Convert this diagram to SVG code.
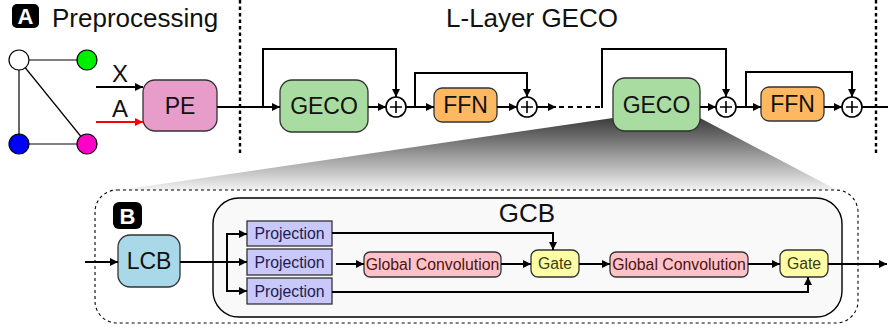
<svg xmlns="http://www.w3.org/2000/svg" width="888" height="328" viewBox="0 0 888 328">
  <defs>
    <marker id="arr" viewBox="0 0 10 10" refX="10" refY="5" markerWidth="4.2" markerHeight="4.2" orient="auto" markerUnits="strokeWidth">
      <path d="M0,0 L10,5 L0,10 z" fill="#000"/>
    </marker>
    <marker id="arrRed" viewBox="0 0 10 10" refX="10" refY="5" markerWidth="4.2" markerHeight="4.2" orient="auto" markerUnits="strokeWidth">
      <path d="M0,0 L10,5 L0,10 z" fill="#f00"/>
    </marker>
    <linearGradient id="zoomFade" x1="0" y1="0" x2="0" y2="1">
      <stop offset="0" stop-color="#3c3c3c"/>
      <stop offset="1" stop-color="#f2f2f2"/>
    </linearGradient>
    <style>
      text { font-family: "Liberation Sans", Arial, sans-serif; }
      .title { font-size: 26px; fill: #111; }
      .big { font-size: 23px; fill: #111; text-anchor: middle; }
      .lbl { font-size: 24px; fill: #111; text-anchor: middle; }
      .small { font-size: 15.8px; text-anchor: middle; }
      .badge { fill: #000; }
      .badgeTxt { font-size: 22px; font-weight: bold; fill: #fff; text-anchor: middle; }
      .box { stroke: #333; stroke-width: 1.3; }
      .wire { fill: none; stroke: #000; stroke-width: 2; }
      .sep { fill: none; stroke: #000; stroke-width: 2.4; stroke-dasharray: 3.5 3; }
      .edge { stroke: #000; stroke-width: 1.2; }
      .sum { fill: #fff; stroke: #000; stroke-width: 1.6; }
      .plus { stroke: #000; stroke-width: 1.6; }
    </style>
  </defs>

  <rect width="888" height="328" fill="#fff"/>

  <!-- zoom wedge from the second GECO layer down to panel B -->
  <polygon points="613,118 700,118 837,190 120,190" fill="url(#zoomFade)"/>

  <!-- panel separators -->
  <line class="sep" x1="240" y1="0" x2="240" y2="156"/>
  <line class="sep" x1="876" y1="0" x2="876" y2="156"/>

  <!-- panel A: titles -->
  <g id="badgeA">
    <rect class="badge" x="12" y="4" width="27" height="24" rx="5"/>
    <text class="badgeTxt" x="25.5" y="24">A</text>
  </g>
  <text class="title" x="52" y="27" font-size="26.5">Preprocessing</text>
  <text class="title" x="532" y="27" text-anchor="middle">L-Layer GECO</text>

  <!-- input graph -->
  <g id="graph">
    <line class="edge" x1="19" y1="60" x2="87" y2="60"/>
    <line class="edge" x1="19" y1="60" x2="19" y2="144"/>
    <line class="edge" x1="19" y1="60" x2="87" y2="144"/>
    <line class="edge" x1="19" y1="144" x2="87" y2="144"/>
    <circle cx="19" cy="60" r="10" fill="#fff" stroke="#000" stroke-width="1.2"/>
    <circle cx="87" cy="60" r="10" fill="#00ee00" stroke="#000" stroke-width="1.2"/>
    <circle cx="19" cy="144" r="10" fill="#0000ff" stroke="#000" stroke-width="1.2"/>
    <circle cx="87" cy="144" r="10" fill="#ff00c8" stroke="#000" stroke-width="1.2"/>
  </g>

  <text class="lbl" x="120" y="82">X</text>
  <text class="lbl" x="120" y="117">A</text>

  <g id="pe">
    <rect class="box" x="143" y="80" width="74" height="51" rx="12" fill="#e89cca"/>
    <text class="big" x="180" y="114">PE</text>
  </g>

  <g id="geco1">
    <rect class="box" x="280" y="80" width="88" height="52" rx="12" fill="#a8dca0"/>
    <text class="big" x="324" y="114">GECO</text>
  </g>
  <g id="sum1">
    <circle class="sum" cx="396" cy="107" r="10"/>
    <path class="plus" d="M390,107 H402 M396,101 V113"/>
  </g>
  <g id="ffn1">
    <rect class="box" x="434" y="88" width="63" height="34" rx="8" fill="#ffb862"/>
    <text class="big" x="465.5" y="113">FFN</text>
  </g>
  <g id="sum2">
    <circle class="sum" cx="527" cy="107" r="10"/>
    <path class="plus" d="M521,107 H533 M527,101 V113"/>
  </g>

  <g id="geco2">
    <rect class="box" x="613" y="78" width="87" height="53" rx="12" fill="#a8dca0"/>
    <text class="big" x="656.5" y="113">GECO</text>
  </g>
  <g id="sum3">
    <circle class="sum" cx="726" cy="107" r="10"/>
    <path class="plus" d="M720,107 H732 M726,101 V113"/>
  </g>
  <g id="ffn2">
    <rect class="box" x="761" y="87" width="63" height="34" rx="8" fill="#ffb862"/>
    <text class="big" x="792.5" y="112">FFN</text>
  </g>
  <g id="sum4">
    <circle class="sum" cx="852" cy="107" r="10"/>
    <path class="plus" d="M846,107 H858 M852,101 V113"/>
  </g>

  <!-- panel B -->
  <rect x="95" y="190" width="763" height="133" rx="22" fill="#fff" stroke="#000" stroke-width="1.1" stroke-dasharray="3 3"/>
  <g id="badgeB">
    <rect class="badge" x="113" y="202" width="29" height="27" rx="6"/>
    <text class="badgeTxt" x="127.5" y="223.5">B</text>
  </g>

  <g id="gcb">
    <rect x="213" y="198" width="629" height="119" rx="26" fill="#f9f9f9" stroke="#000" stroke-width="1.4"/>
    <text class="title" x="527" y="222" text-anchor="middle">GCB</text>
  </g>

  <g id="lcb">
    <rect class="box" x="118" y="235" width="62" height="52" rx="12" fill="#a9d9e8"/>
    <text class="big" x="149" y="269">LCB</text>
  </g>

  <g id="proj1">
    <rect class="box" x="247" y="221" width="85" height="25" fill="#c8c8fa"/>
    <text class="small" x="289.5" y="239" fill="#1c1c50">Projection</text>
  </g>
  <g id="proj2">
    <rect class="box" x="247" y="249" width="85" height="26" fill="#c8c8fa"/>
    <text class="small" x="289.5" y="267.5" fill="#1c1c50">Projection</text>
  </g>
  <g id="proj3">
    <rect class="box" x="247" y="278" width="85" height="26" fill="#c8c8fa"/>
    <text class="small" x="289.5" y="296.5" fill="#1c1c50">Projection</text>
  </g>

  <g id="gconv1">
    <rect class="box" x="364" y="252" width="137" height="25" rx="6" fill="#ffc2c8"/>
    <text class="small" x="432.5" y="270" fill="#4a1414">Global Convolution</text>
  </g>
  <g id="gate1">
    <rect class="box" x="531" y="250" width="48" height="27" rx="7" fill="#fdfda6"/>
    <text class="small" x="555" y="269" fill="#3c3c10">Gate</text>
  </g>
  <g id="gconv2">
    <rect class="box" x="610" y="252" width="138" height="25" rx="6" fill="#ffc2c8"/>
    <text class="small" x="679" y="270" fill="#4a1414">Global Convolution</text>
  </g>
  <g id="gate2">
    <rect class="box" x="780" y="250" width="48" height="27" rx="7" fill="#fdfda6"/>
    <text class="small" x="804" y="269" fill="#3c3c10">Gate</text>
  </g>

  <!-- connectors -->
  <g id="connectors">
    <line x1="96" y1="87" x2="143" y2="87" stroke="#000" stroke-width="2" marker-end="url(#arr)"/>
    <line x1="96" y1="122" x2="143" y2="122" stroke="#f00" stroke-width="2" marker-end="url(#arrRed)"/>

    <line class="wire" x1="217" y1="107" x2="280" y2="107" marker-end="url(#arr)"/>
    <path class="wire" d="M263,107 V49 H396 V97" marker-end="url(#arr)"/>
    <line class="wire" x1="368" y1="107" x2="386" y2="107" marker-end="url(#arr)"/>
    <line class="wire" x1="406" y1="107" x2="434" y2="107" marker-end="url(#arr)"/>
    <path class="wire" d="M415,107 V73 H527 V97" marker-end="url(#arr)"/>
    <line class="wire" x1="497" y1="107" x2="517" y2="107" marker-end="url(#arr)"/>
    <line class="wire" x1="537" y1="107" x2="556" y2="107" marker-end="url(#arr)"/>
    <line class="wire" x1="559" y1="107" x2="602" y2="107" stroke-dasharray="5 4"/>
    <path class="wire" d="M602,108 V49 H726 V97" marker-end="url(#arr)"/>
    <line class="wire" x1="700" y1="107" x2="716" y2="107" marker-end="url(#arr)"/>
    <line class="wire" x1="736" y1="107" x2="761" y2="107" marker-end="url(#arr)"/>
    <path class="wire" d="M746,107 V72 H852 V97" marker-end="url(#arr)"/>
    <line class="wire" x1="824" y1="107" x2="842" y2="107" marker-end="url(#arr)"/>
    <line class="wire" x1="862" y1="107" x2="888" y2="107"/>

    <line class="wire" x1="85" y1="262" x2="118" y2="262" marker-end="url(#arr)"/>
    <line class="wire" x1="180" y1="262" x2="247" y2="262" marker-end="url(#arr)"/>
    <path class="wire" d="M247,234 H227 V291 H247" marker-end="url(#arr)"/>
    <line class="wire" x1="227" y1="234" x2="247" y2="234" marker-end="url(#arr)"/>
    <path class="wire" d="M332,233 H553 V250" marker-end="url(#arr)"/>
    <line class="wire" x1="336" y1="264" x2="364" y2="264" marker-end="url(#arr)"/>
    <line class="wire" x1="501" y1="264" x2="531" y2="264" marker-end="url(#arr)"/>
    <line class="wire" x1="579" y1="264" x2="610" y2="264" marker-end="url(#arr)"/>
    <line class="wire" x1="748" y1="264" x2="780" y2="264" marker-end="url(#arr)"/>
    <line class="wire" x1="828" y1="264" x2="887" y2="264" marker-end="url(#arr)"/>
    <path class="wire" d="M332,292 H808 V277" marker-end="url(#arr)"/>
  </g>
</svg>
